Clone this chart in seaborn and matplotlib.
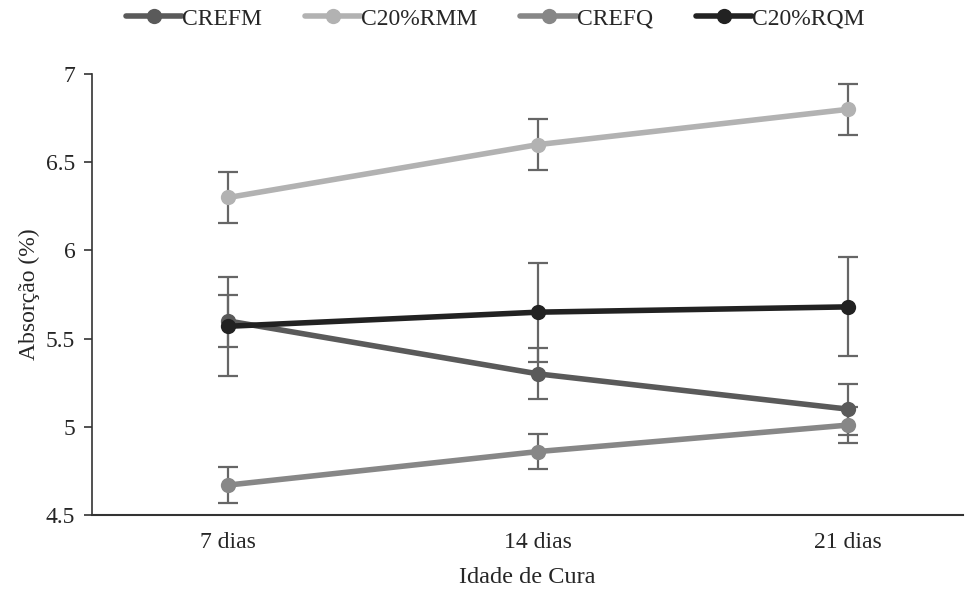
import matplotlib
matplotlib.use("Agg")
import matplotlib.pyplot as plt
import seaborn as sns
import pandas as pd
from matplotlib.lines import Line2D

categories = ["7 dias", "14 dias", "21 dias"]
series_names = ["CREFM", "C20%RMM", "CREFQ", "C20%RQM"]
crefm = [5.60, 5.30, 5.10]
c20rmm = [6.30, 6.60, 6.80]
crefq = [4.67, 4.86, 5.01]
c20rqm = [5.57, 5.65, 5.68]
err_crefm = [0.15, 0.145, 0.145]
err_c20rmm = [0.145, 0.145, 0.145]
err_crefq = [0.10, 0.10, 0.10]
err_c20rqm = [0.28, 0.28, 0.28]
yticks = [4.5, 5, 5.5, 6, 6.5, 7]
ytick_labels = ["4.5", "5", "5.5", "6", "6.5", "7"]

values = [crefm, c20rmm, crefq, c20rqm]
errors = [err_crefm, err_c20rmm, err_crefq, err_c20rqm]
colors = ["#5a5a5a", "#b2b2b2", "#878787", "#222222"]

rows = []
for name, vals, errs in zip(series_names, values, errors):
    for c, v, e in zip(categories, vals, errs):
        rows.append({"Idade": c, "Serie": name, "Valor": v, "Erro": e})
df = pd.DataFrame(rows)

sns.set_style("white")
plt.rcParams["font.family"] = ["Liberation Serif", "DejaVu Serif"]

fig = plt.figure(figsize=(9.71, 5.92), dpi=100)
ax = fig.add_axes([0.0947, 0.130, 0.8971, 0.745])

palette = dict(zip(series_names, colors))
sns.lineplot(data=df, x="Idade", y="Valor", hue="Serie", hue_order=series_names,
             palette=palette, marker="o", markersize=11, markeredgewidth=0,
             linewidth=4, errorbar=None, sort=False, ax=ax, legend=False, zorder=3)

for name in series_names:
    sub = df[df["Serie"] == name]
    ax.errorbar(sub["Idade"], sub["Valor"], yerr=sub["Erro"], fmt="none",
                ecolor="#666666", elinewidth=1.6, capsize=7, capthick=1.6, zorder=2)

ax.set_ylim(4.5, 7)
ax.set_xlim(-0.44, 2.37)
ax.set_yticks(yticks)
ax.set_yticklabels(ytick_labels)
ax.set_xlabel("Idade de Cura", fontsize=17.5, labelpad=10)
ax.set_ylabel("Absorção (%)", fontsize=17)
ax.tick_params(axis="y", which="both", left=True, length=6, width=1.2, color="#333333",
               labelsize=17, pad=6)
ax.tick_params(axis="x", bottom=False, labelsize=17, pad=9)
for s in ["top", "right"]:
    ax.spines[s].set_visible(False)
ax.spines["left"].set_color("#333333")
ax.spines["bottom"].set_color("#333333")
ax.spines["left"].set_linewidth(1.2)
ax.spines["bottom"].set_linewidth(1.5)
ax.yaxis.set_label_coords(-0.06, 0.5)

handles = [Line2D([0], [0], color=c, lw=4, marker="o", markersize=11, markeredgewidth=0)
           for c in colors]
fig.legend(handles, series_names, loc="center", bbox_to_anchor=(0.51, 0.968), ncol=4,
           frameon=False, fontsize=17, handlelength=2.4, handletextpad=0.0,
           columnspacing=1.8)

fig.savefig("out.png", dpi=100)
